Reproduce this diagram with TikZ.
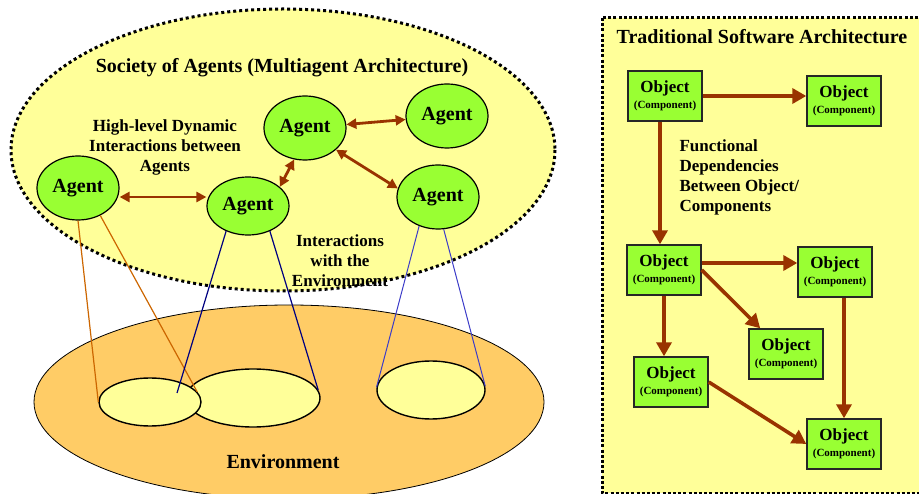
\documentclass[tikz,border=0pt]{standalone}
\usepackage{fontspec}
\setmainfont{Liberation Serif}
\usetikzlibrary{shapes.geometric,arrows.meta}

\definecolor{paleyellow}{HTML}{FFFF99}
\definecolor{agentgreen}{HTML}{99FF33}
\definecolor{envorange}{HTML}{FFCC66}
\definecolor{arrowbrown}{HTML}{993300}
\definecolor{linkorange}{HTML}{CC6600}
\definecolor{linknavy}{HTML}{000080}
\definecolor{linkblue}{HTML}{3C3CC8}

\newcommand{\objtext}{{\fontsize{17}{17}\selectfont Object}\\(Component)}

\begin{document}
\begin{tikzpicture}
        [x=1pt, y=-1pt,
        agent/.style={ellipse, draw, line width=1.2pt, fill=agentgreen, minimum width=82pt, minimum height=64pt, inner sep=0pt, font=\bfseries\fontsize{20}{24}\selectfont},
        region/.style={ellipse, draw, line width=1.4pt, fill=paleyellow, inner sep=0pt},
        comp/.style={rectangle, draw=black!85, line width=1.4pt, fill=agentgreen, minimum width=74pt, minimum height=50pt, inner sep=0pt, align=center, font=\bfseries\fontsize{11}{16}\selectfont},
        note/.style={font=\bfseries\fontsize{17}{20}\selectfont, align=center},
        heading/.style={font=\bfseries\fontsize{20}{24}\selectfont},
        border/.style={line width=3pt, dash pattern=on 3pt off 3pt},
        link/.style={arrowbrown, line width=2.8pt, {Triangle[length=10pt,width=10pt]}-{Triangle[length=10pt,width=10pt]}},
        dep/.style={arrowbrown, line width=3.6pt, -{Triangle[length=14pt,width=15pt]}},
        sense/.style={line width=1.2pt}]

        \useasboundingbox (0,0) rectangle (919,494);

        % society of agents and environment
        \draw[border, fill=paleyellow] (283,150) ellipse [x radius=272, y radius=141];
        \draw[fill=envorange, line width=0.8pt] (289,402) ellipse [x radius=255, y radius=97];

        \node[heading] (society) at (282,68) {Society of Agents (Multiagent Architecture)};
        \node[heading] (environment) at (283,462) {Environment};
        \node[note] (dynamic) at (165,147) {High-level Dynamic\\Interactions between\\Agents};

        % parts of the environment seen by the agents
        \node[region, minimum width=134pt, minimum height=58pt] (r2) at (253,398) {};
        \node[region, minimum width=102pt, minimum height=48pt] (r1) at (150,402) {};
        \node[region, minimum width=108pt, minimum height=58pt] (r3) at (431,390) {};
        \coordinate (tip) at (177,393);

        % agents
        \node[agent] (a1) at (78,188) {Agent};
        \node[agent, minimum height=58pt] (a2) at (248,206) {Agent};
        \node[agent] (a3) at (305,128) {Agent};
        \node[agent] (a4) at (447,116) {Agent};
        \node[agent] (a5) at (438,197) {Agent};

        \node[note] (envtext) at (340,261) {Interactions\\with the\\Environment};

        % agent to agent interactions
        \draw[link] ([yshift=-9pt]a1.east) -- ([yshift=9pt]a2.west);
        \draw[link] (a2.31) -- (a3.-109);
        \draw[link] (a3) -- (a4);
        \draw[link] (a3.-35) -- (a5.168);

        % agent to environment
        \draw[sense, linkorange] (a1.south) -- (r1.west);
        \draw[sense, linkorange] (a1.-51) -- (r1.12);
        \draw[sense, linknavy] (a2.229) -- (tip);
        \draw[sense, linknavy] (a2.-49) -- (r2.7);
        \draw[sense, linkblue, line width=1pt] (a5.237) -- (r3.177);
        \draw[sense, linkblue, line width=1pt] (a5.-80) -- (r3.4);

        % traditional software architecture
        \draw[border, dash pattern=on 3pt off 2.2pt, fill=paleyellow] (602,18) rectangle (935,493);
        \node[heading] (traditional) at (762,37) {Traditional Software Architecture};

        \node[comp] (o1) at (665,96) {\objtext};
        \node[comp] (o2) at (844,101) {\objtext};
        \node[comp] (o3) at (664,270) {\objtext};
        \node[comp] (o4) at (835,272) {\objtext};
        \node[comp] (o5) at (786,354) {\objtext};
        \node[comp] (o6) at (671,382) {\objtext};
        \node[comp] (o7) at (844,444) {\objtext};

        \node[note, align=left, anchor=west] (functional) at (676,177) {Functional\\Dependencies\\Between Object/\\Components};

        % functional dependencies
        \draw[dep] (o1.east) -- (o1.east -| o2.west);
        \draw[dep] ([xshift=-5pt]o1.south) -- ([xshift=-5pt]o1.south |- o3.north);
        \draw[dep] ([yshift=7pt]o3.east) -- ([yshift=7pt]o3.east -| o4.west);
        \draw[dep] (o3.east) -- (o5);
        \draw[dep] (o3.south) -- (o3.south |- o6.north);
        \draw[dep] (o6.east) -- (o7.west);
        \draw[dep] (o7.north |- o4.south) -- (o7.north);

        \end{tikzpicture}
\end{document}
